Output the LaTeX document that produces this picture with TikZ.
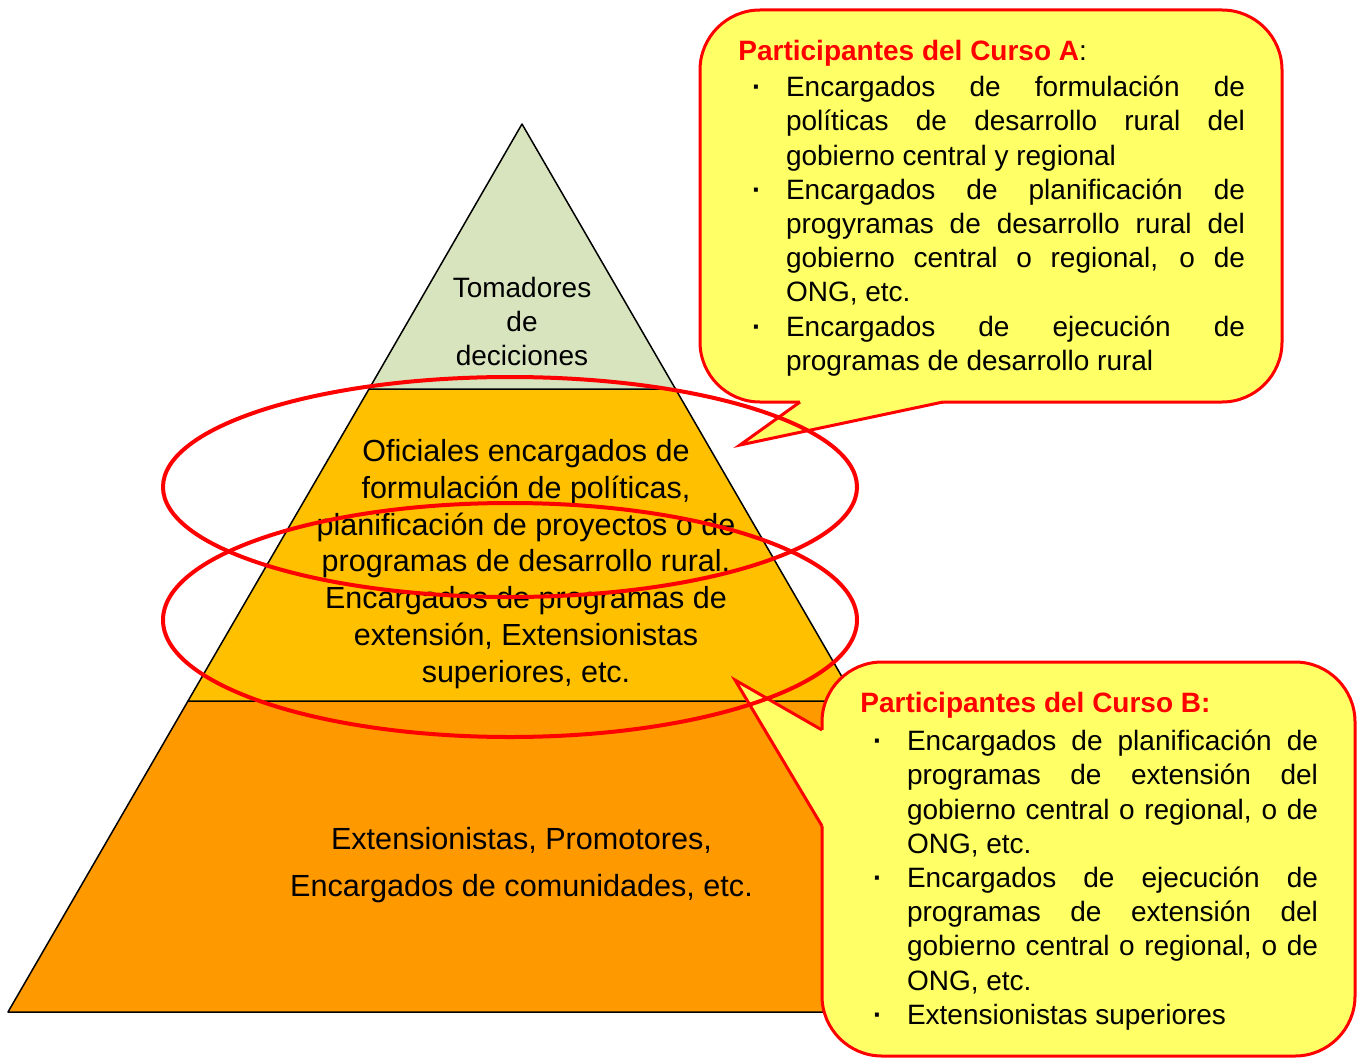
\documentclass[tikz,border=0pt]{standalone}
\usepackage{fontspec}
\setmainfont{Liberation Sans}
\definecolor{pgreen}{HTML}{D7E4BD}
\definecolor{pmid}{HTML}{FFC000}
\definecolor{pbot}{HTML}{FF9900}
\definecolor{cyel}{HTML}{FFFF66}
\definecolor{cred}{HTML}{FF0000}
\newcommand{\cbul}{\noindent\hangindent=17pt\hangafter=1\makebox[17pt][l]{\bfseries ·}}
\hbadness=10000
\begin{document}
\begin{tikzpicture}[x=0.5pt,y=-0.5pt,
  layer/.style={draw=black,line width=0.75pt,line join=round},
  calloutbox/.style={draw=cred,fill=cyel,line width=1.5pt,rounded corners=30pt},
  calloutleg/.style={draw=cred,line width=1.5pt,line join=miter},
  ring/.style={draw=cred,line width=2pt},
  ptext/.style={inner sep=0pt,align=center},
  ctext/.style={inner sep=0pt,align=justify,font=\fontsize{14}{17.1}\selectfont},
  ctitle/.style={inner sep=0pt,anchor=west,font=\fontsize{14}{17}\selectfont\bfseries}]
\useasboundingbox (0,0) rectangle (1363,1059);
% pyramid
\path[layer,fill=pbot] (188,701) -- (856,701) -- (1036,1012) -- (8,1012) -- cycle;
\path[layer,fill=pmid] (369,389) -- (675.5,389) -- (856,701) -- (188,701) -- cycle;
\path[layer,fill=pgreen] (522,124) -- (675.5,389) -- (369,389) -- cycle;
\node[ptext,font=\fontsize{14}{17}\selectfont] (top) at (522,321) {Tomadores\\de\\deciciones};
\node[ptext,font=\fontsize{15.25}{18.4}\selectfont] (mid) at (526,564) {Oficiales encargados de\\formulación de políticas,\\planificación de proyectos o de\\programas de desarrollo rural,\\Encargados de programas de\\extensión, Extensionistas\\superiores, etc.};
\node[ptext,font=\fontsize{15.3}{23.5}\selectfont] (bot) at (521.5,865) {Extensionistas, Promotores,\\Encargados de comunidades, etc.};
% callout A
\path[calloutbox] (700,10) rectangle (1282,402);
\fill[cyel] (800,402) -- (740,445) -- (943,402) -- (943,396) -- (800,396) -- cycle;
\path[calloutleg] (800,402) -- (740,445) -- (943,402);
\node[ctitle] (ta) at (738,53) {\textcolor{cred}{Participantes del Curso A}\mdseries:};
\node[ctext,text width=246.5pt] (la) at (998.5,226) {\cbul Encargados de formulación de\linebreak políticas de desarrollo rural del\linebreak gobierno central y regional\par
\cbul Encargados de planificación de\linebreak progyramas de desarrollo rural del\linebreak gobierno central o regional, o de\linebreak ONG, etc.\par
\cbul Encargados de ejecución de\linebreak programas de desarrollo rural\par};
% callout B
\path[calloutbox] (822,662) rectangle (1355,1056);
\fill[cyel] (822,730) -- (735,680) -- (822,826) -- (828,826) -- (828,730) -- cycle;
\path[calloutleg] (822,730) -- (735,680) -- (822,826);
\node[ctitle] (tb) at (860,705) {\textcolor{cred}{Participantes del Curso B:}};
\node[ctext,text width=222.5pt] (lb) at (1095.5,880) {\cbul Encargados de planificación de\linebreak programas de extensión del\linebreak gobierno central o regional, o de\linebreak ONG, etc.\par
\cbul Encargados de ejecución de\linebreak programas de extensión del\linebreak gobierno central o regional, o de\linebreak ONG, etc.\par
\cbul Extensionistas superiores\par};
% rings
\draw[ring] (510,487) ellipse [x radius=347, y radius=110];
\draw[ring] (510,620) ellipse [x radius=347, y radius=117];
\end{tikzpicture}
\end{document}
